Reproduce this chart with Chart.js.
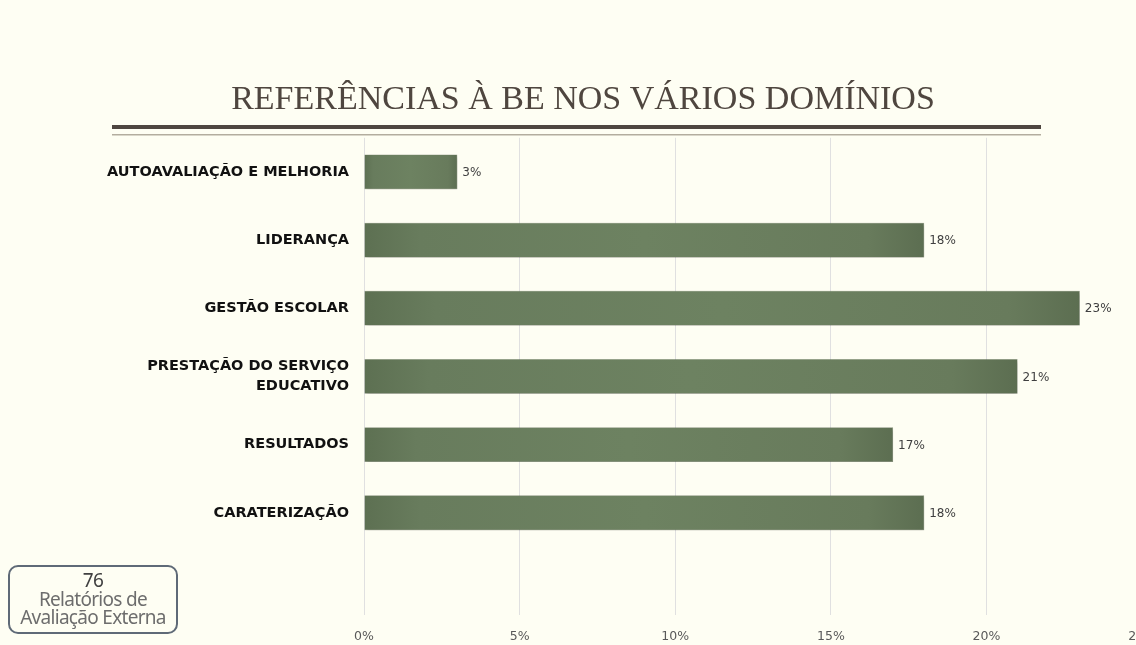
<!DOCTYPE html>
<html>
<head>
<meta charset="utf-8">
<script src="https://cdn.jsdelivr.net/npm/chart.js@4"></script>
<style>
    html, body { margin: 0; padding: 0; background: #fefef3; overflow: hidden; }
    #wrap { position: relative; width: 1170px; height: 645px; }
    #note {
        position: absolute; left: 8px; top: 565px; width: 166px; height: 61px;
        border: 2px solid #5f6a77; border-radius: 10px; background: #fefef3;
        font-family: 'Noto Sans', sans-serif; text-align: center; color: #6d6d6d;
        font-size: 19px; line-height: 18.5px; letter-spacing: -0.7px; padding-top: 4px;
        box-sizing: content-box; white-space: nowrap;
    }
    #note span { display: block; }
    #note .num { color: #404040; }
</style>
</head>
<body>
<div id="wrap">
    <canvas id="chart" width="1170" height="645"></canvas>
    <div id="note"><span class="num">76</span><span>Relatórios de</span><span>Avaliação Externa</span></div>
</div>
<script>
// --- data ---
const categories = [
    'AUTOAVALIAÇÃO E MELHORIA',
    'LIDERANÇA',
    'GESTÃO ESCOLAR',
    ['PRESTAÇÃO DO SERVIÇO', 'EDUCATIVO'],
    'RESULTADOS',
    'CARATERIZAÇÃO',
    ''
];
const percentages = [3, 18, 23, 21, 17, 18, null];
const tickValues = [0, 5, 10, 15, 20, 25];
const chartTitle = 'REFERÊNCIAS À BE NOS VÁRIOS DOMÍNIOS';

// bar fill: a bit darker at both ends
function barFill(context) {
    const chart = context.chart;
    const area = chart.chartArea;
    if (!area || context.raw == null) return '#6b8060';
    const xs = chart.scales.x;
    const x0 = xs.getPixelForValue(0);
    const x1 = xs.getPixelForValue(context.raw);
    if (x1 - x0 < 2) return '#6b8060';
    const g = chart.ctx.createLinearGradient(x0, 0, x1, 0);
    g.addColorStop(0, '#5d7052');
    g.addColorStop(0.1, '#687c5d');
    g.addColorStop(0.5, '#6d8261');
    g.addColorStop(0.9, '#687b5c');
    g.addColorStop(1, '#5c6e51');
    return g;
}

// shadow under the bars
const barShadow = {
    id: 'barShadow',
    beforeDatasetDraw(chart) {
        const ctx = chart.ctx;
        ctx.save();
        ctx.shadowColor = 'rgba(0, 0, 0, 0.3)';
        ctx.shadowBlur = 4;
        ctx.shadowOffsetX = 1;
        ctx.shadowOffsetY = 2;
    },
    afterDatasetDraw(chart) {
        chart.ctx.restore();
    }
};

// value labels at the end of each bar
const valueLabels = {
    id: 'valueLabels',
    afterDatasetsDraw(chart) {
        const ctx = chart.ctx;
        const meta = chart.getDatasetMeta(0);
        ctx.save();
        ctx.font = '12px "DejaVu Sans"';
        ctx.fillStyle = '#404040';
        ctx.textAlign = 'left';
        ctx.textBaseline = 'middle';
        meta.data.forEach((bar, i) => {
            const v = percentages[i];
            if (v == null) return;
            ctx.fillText(v + '%', bar.x + 5, bar.y + 1);
        });
        ctx.restore();
    }
};

// double rule under the title
const titleRule = {
    id: 'titleRule',
    afterDraw(chart) {
        const ctx = chart.ctx;
        ctx.save();
        ctx.fillStyle = '#4e4640';
        ctx.fillRect(112, 125, 929, 4);
        ctx.fillStyle = '#b3ad9f';
        ctx.fillRect(112, 134, 929, 1.5);
        ctx.restore();
    }
};

new Chart(document.getElementById('chart'), {
    type: 'bar',
    data: {
        labels: categories,
        datasets: [{
            data: percentages,
            backgroundColor: barFill,
            borderColor: 'rgba(80, 96, 70, 0.6)',
            borderWidth: 0.5,
            categoryPercentage: 1,
            barPercentage: 0.51
        }]
    },
    options: {
        indexAxis: 'y',
        responsive: false,
        animation: false,
        layout: { padding: { left: 22, right: 26, top: 0, bottom: 0 } },
        plugins: {
            legend: { display: false },
            tooltip: { enabled: false },
            title: {
                display: true,
                text: chartTitle,
                color: '#4f463f',
                font: { family: '"Liberation Serif", serif', size: 34, weight: 'normal', lineHeight: 1.2 },
                padding: { top: 80, bottom: 17 }
            }
        },
        scales: {
            x: {
                min: 0,
                max: 25,
                afterBuildTicks(scale) {
                    scale.ticks = tickValues.map(v => ({ value: v }));
                },
                afterFit(scale) { scale.height = 30; },
                grid: { color: '#e0e0e0', lineWidth: 1, drawTicks: false },
                border: { display: false },
                ticks: {
                    color: '#595959',
                    font: { family: '"DejaVu Sans"', size: 12.5 },
                    padding: 14,
                    callback: v => v + '%'
                }
            },
            y: {
                afterFit(scale) { scale.width = 342; },
                grid: { display: false, drawTicks: false },
                border: { display: false },
                ticks: {
                    color: '#111111',
                    font: { family: '"DejaVu Sans"', size: 14.5, weight: 'bold', lineHeight: 1.4 },
                    padding: 15
                }
            }
        }
    },
    plugins: [barShadow, valueLabels, titleRule]
});
</script>
</body>
</html>
